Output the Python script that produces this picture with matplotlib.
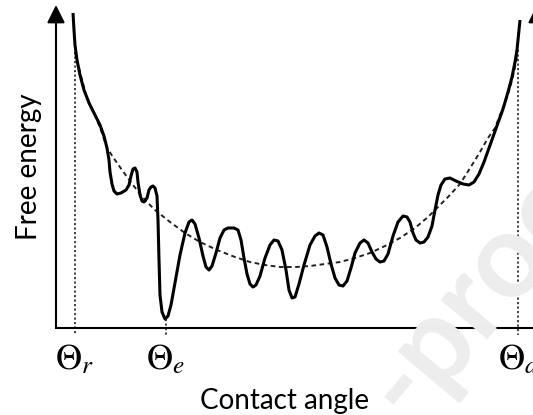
import matplotlib
matplotlib.use("Agg")
import matplotlib.pyplot as plt

# =========================
# Data (arbitrary units)
# =========================
# solid curve: rough free energy landscape
rough_angle = [17, 18, 19, 21, 24, 28, 33, 38, 44, 48, 51, 53, 54, 56, 58, 61, 65, 70,
               73, 75, 77, 79, 81, 82, 84, 86, 88, 91, 93, 95, 97, 99, 101, 102, 103,
               104, 106, 109, 112, 115, 119, 124, 129, 133, 136, 139, 143, 147, 150,
               153, 156, 160, 164, 168, 172, 178, 182, 185, 188, 191, 194, 197, 200,
               204, 209, 214, 218, 222, 226, 230, 233, 236, 239, 243, 248, 254, 259,
               263, 267, 271, 275, 279, 283, 287, 291, 295, 299, 304, 308, 312, 316,
               320, 324, 328, 332, 337, 342, 347, 351, 354, 357, 360, 364, 368, 372,
               376, 379, 382, 385, 389, 394, 400, 407, 413, 418, 423, 428, 433, 437,
               442, 447, 452, 456, 459, 461, 462, 463, 464]
rough_energy = [315, 298, 283, 268, 253, 238, 225, 215, 203, 192, 180, 168, 156, 144,
                137, 134, 135, 138, 143, 152, 159, 160, 156, 146, 133, 127, 126, 130,
                138, 141, 142, 140, 132, 108, 68, 33, 16, 9, 12, 23, 45, 73, 95, 106,
                108, 104, 90, 72, 61, 58, 62, 75, 90, 98, 100, 100, 98, 88, 70, 54, 44,
                41, 43, 52, 70, 83, 88, 87, 78, 58, 38, 30, 31, 44, 63, 83, 92, 95, 93,
                81, 64, 50, 43, 42, 47, 60, 75, 85, 88, 85, 76, 69, 66, 67, 74, 92, 106,
                112, 111, 106, 95, 88, 85, 86, 91, 102, 118, 133, 143, 149, 150, 147,
                144, 143, 146, 154, 166, 180, 191, 205, 219, 236, 251, 266, 278, 288,
                298, 308]

# dashed curve: smooth (ideal) free energy
smooth_angle = [19, 24, 30, 39, 46, 51, 59, 66, 77, 89, 99, 114, 129, 144, 161, 179,
                194, 209, 224, 240, 254, 269, 284, 299, 314, 329, 344, 359, 372, 382,
                392, 404, 416, 424, 432, 439, 444, 449, 454, 458, 461]
smooth_energy = [276, 256, 233, 213, 195, 180, 168, 158, 143, 128, 118, 106, 95, 86,
                 78, 71, 66, 63, 61, 61, 62, 64, 66, 70, 75, 82, 90, 100, 111, 121,
                 131, 144, 163, 176, 190, 200, 213, 225, 240, 256, 271]

# marked angles: receding, equilibrium, advancing
mark_angles = [19, 110, 462]
mark_tops = [276, 9, 278]
mark_labels = [r"$\Theta_r$", r"$\Theta_e$", r"$\Theta_a$"]

# =========================
# Figure
# =========================
plt.rcParams["mathtext.fontset"] = "stix"

fig = plt.figure(figsize=(5.33, 4.15), dpi=100)
ax = fig.add_axes([56 / 533, 87 / 415, 477 / 533, 323 / 415])
ax.set_xlim(0, 477)
ax.set_ylim(0, 323)

# watermark
fig.text(410 / 533, 1 - 424 / 415, "-proof", fontsize=85, family="Lato",
         weight="bold", color="#ededed", rotation=50, rotation_mode="anchor",
         ha="left", va="baseline", zorder=0)

# smooth curve and dotted markers
ax.plot(smooth_angle, smooth_energy, color="#222222", lw=1.4,
        dashes=(2.4, 1.8), zorder=2)
for a, top in zip(mark_angles, mark_tops):
    ax.plot([a, a], [top, -7], color="#222222", lw=1.2,
            dashes=(1.3, 1.4), clip_on=False, zorder=2)

# rough curve
ax.plot(rough_angle, rough_energy, color="black", lw=2.2,
        solid_capstyle="butt", zorder=3)

# axes
for s in ["top", "right", "left"]:
    ax.spines[s].set_visible(False)
ax.spines["bottom"].set_linewidth(1.5)

arrow = dict(arrowstyle="-|>,head_length=0.4,head_width=0.2",
             lw=1.5, color="black", mutation_scale=27, shrinkA=0, shrinkB=0)
ax.annotate("", xy=(0, 1.0), xytext=(0, 0), xycoords="axes fraction",
            arrowprops=arrow, annotation_clip=False)
ax.annotate("", xy=(481 / 477, 1.0), xytext=(481 / 477, 0),
            xycoords="axes fraction", arrowprops=arrow, annotation_clip=False)

ax.set_xticks(mark_angles)
ax.set_xticklabels(mark_labels, fontsize=26)
ax.tick_params(axis="x", length=0, pad=10)
ax.set_yticks([])

ax.set_xlabel("Contact angle", fontsize=20, family="Lato")
ax.xaxis.set_label_coords(229 / 477, -60 / 323)
ax.set_ylabel("Free energy", fontsize=20, family="Lato")
ax.yaxis.set_label_coords(-14 / 477, 0.5)

fig.savefig("out.png", dpi=100)
